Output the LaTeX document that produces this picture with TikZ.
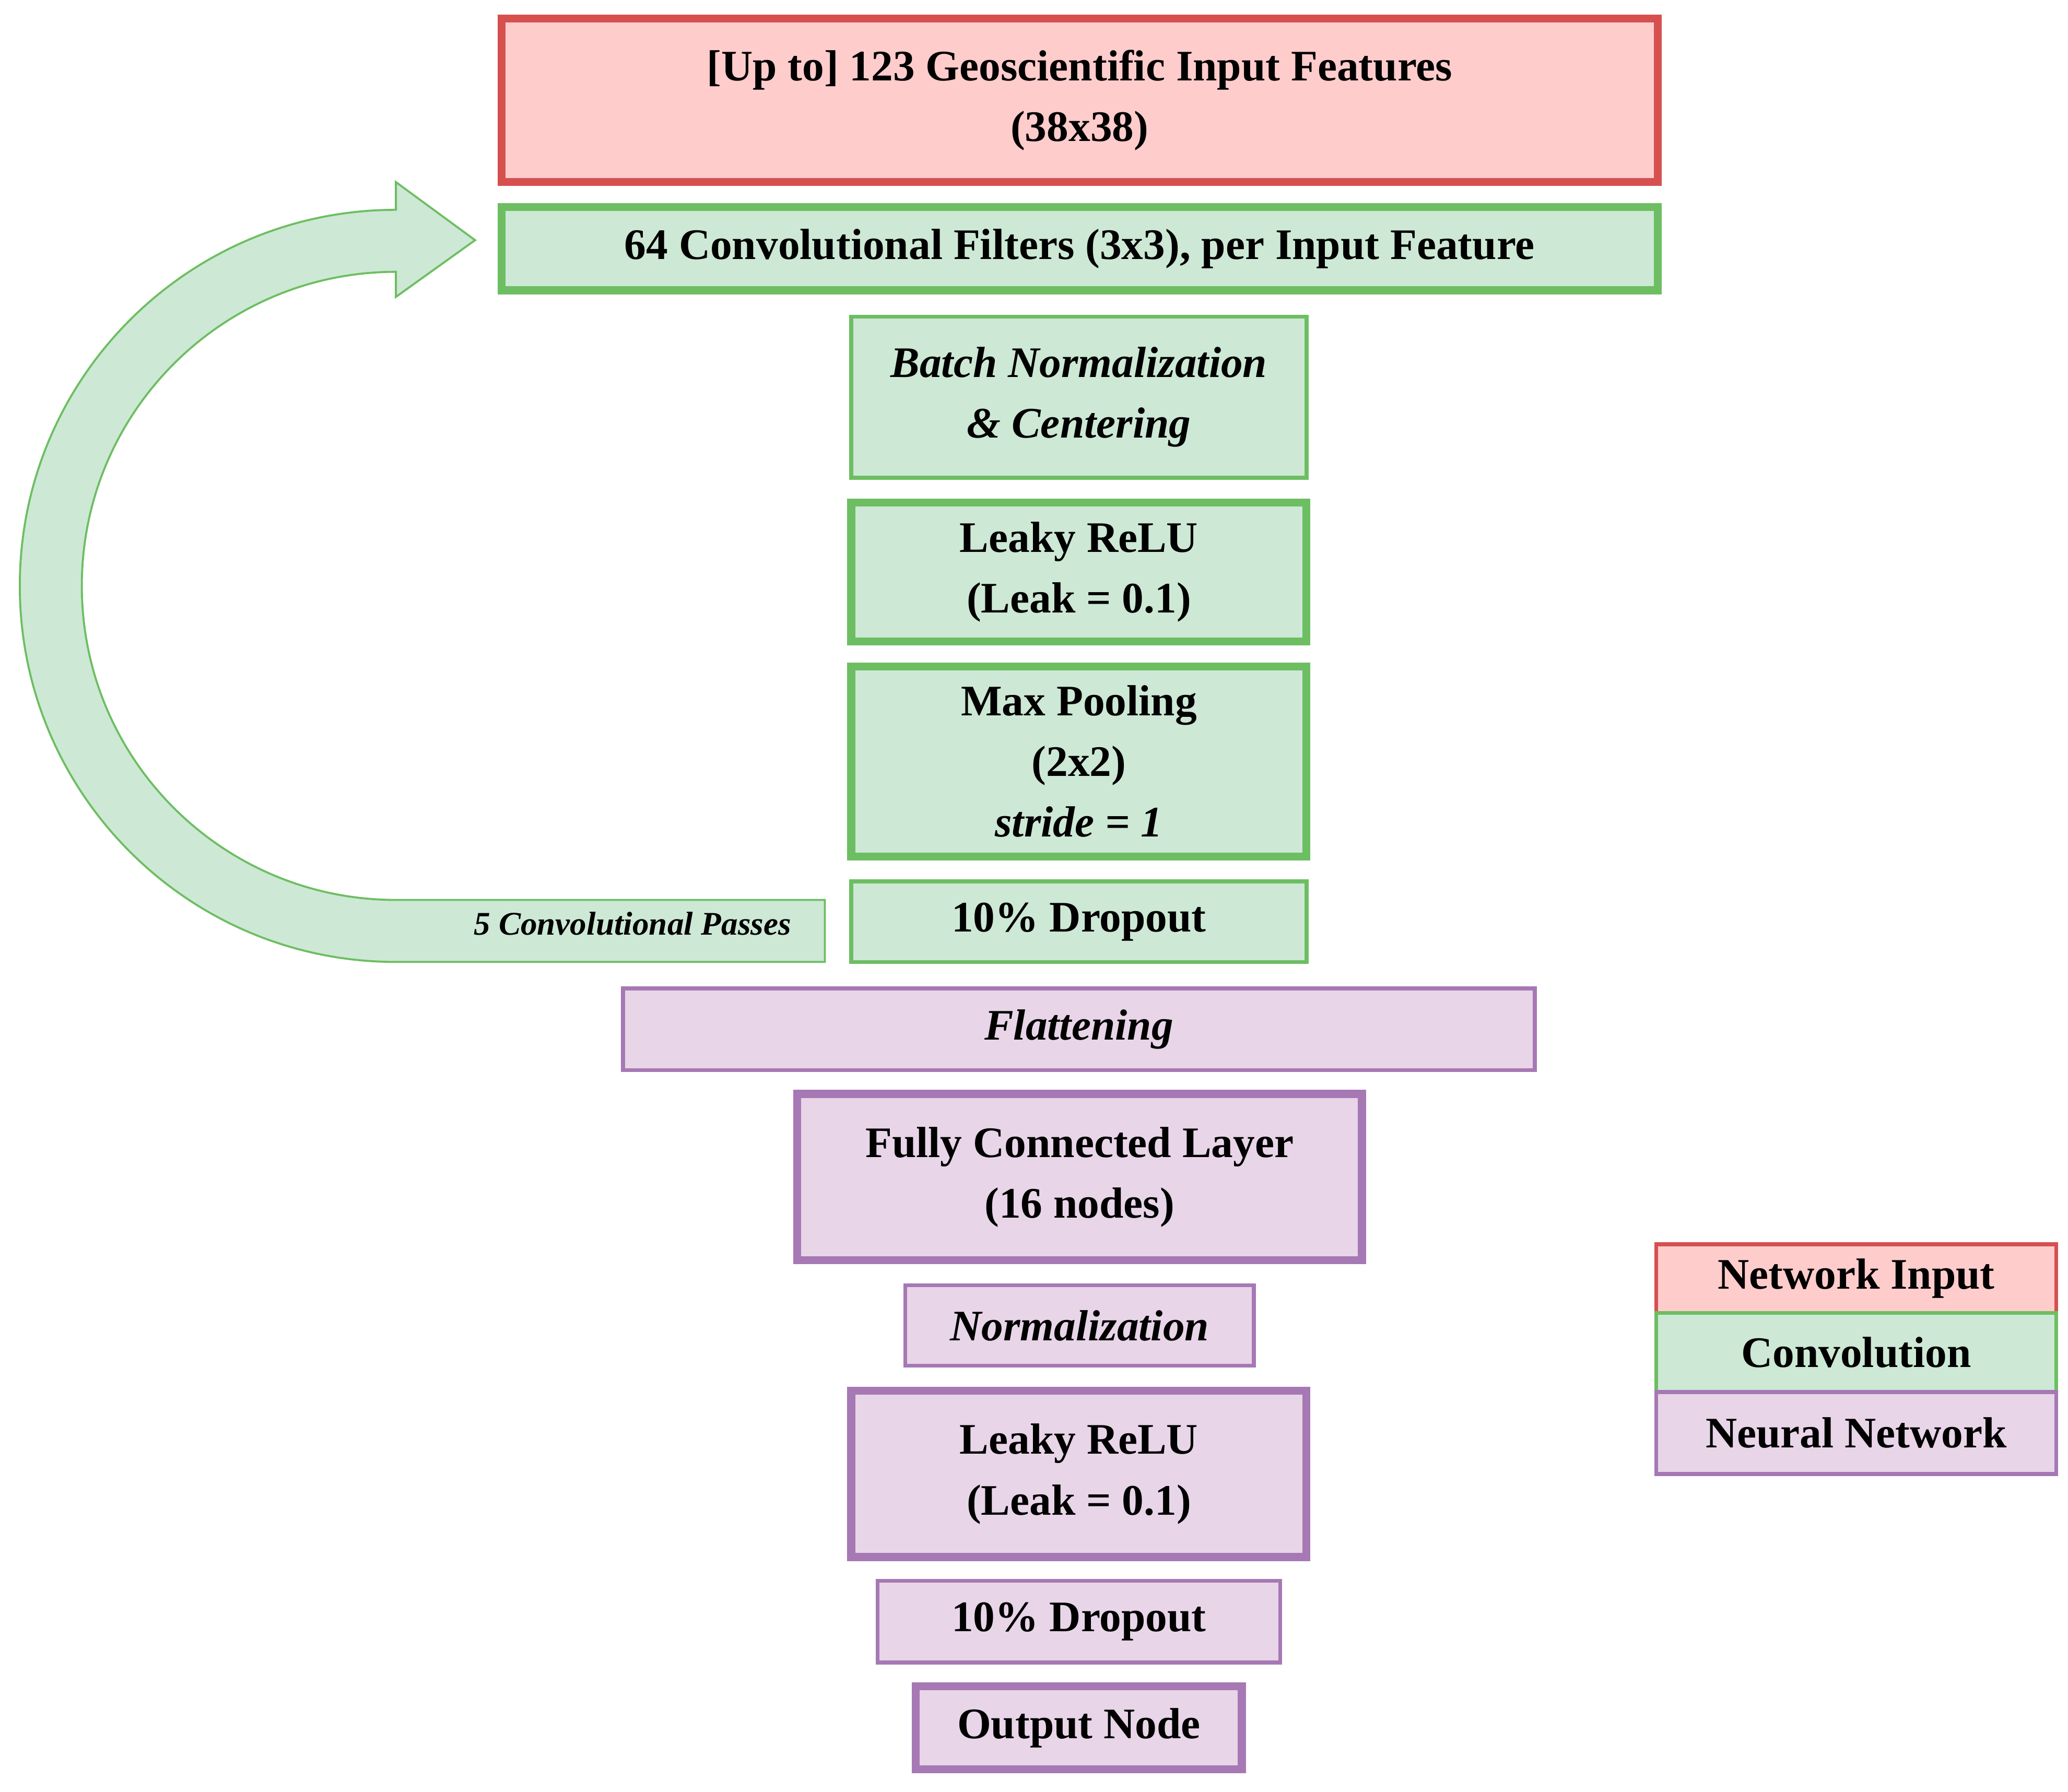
\documentclass[tikz,border=0pt]{standalone}
\usepackage{fontspec}
\setmainfont{Liberation Serif}
\definecolor{rfill}{HTML}{FFCCCC}\definecolor{rline}{HTML}{D65050}
\definecolor{gfill}{HTML}{CDE8D5}\definecolor{gline}{HTML}{6DBE62}
\definecolor{pfill}{HTML}{E8D5E8}\definecolor{pline}{HTML}{A678B4}
\begin{document}
\begin{tikzpicture}[x=1pt,y=1pt,
 box/.style={rectangle,inner sep=0,align=center,font=\fontsize{33}{46}\selectfont\bfseries},
 red/.style={box,fill=rfill,draw=rline},
 grn/.style={box,fill=gfill,draw=gline},
 pur/.style={box,fill=pfill,draw=pline},
 thk/.style={line width=6},thn/.style={line width=3}]
\useasboundingbox (0,0) rectangle (1567,-1358);
\newcommand{\bx}[7]{\node[#1,minimum width={#4-#3},minimum height={#6-#5}] (#2) at ({(#3+#4)/2},{-(#5+#6)/2}) {#7};}
% arrow
\draw[gline,fill=gfill,line width=1.5] (625,-729) -- (300,-729) arc[start angle=270,end angle=90,radius=285]
 -- (300,-138) -- (360,-182) -- (300,-225) -- (300,-206) arc[start angle=90,end angle=270,radius=238]
 -- (625,-682) -- cycle;
\node[anchor=east,font=\fontsize{25}{30}\selectfont\bfseries\itshape] (lbl) at (603,-700) {5 Convolutional Passes};
\bx{red,thk}{inp}{380}{1256}{14}{138}{[Up to] 123 Geoscientific Input Features\\(38x38)}
\bx{grn,thk}{conv}{380}{1256}{157}{220}{64 Convolutional Filters (3x3), per Input Feature}
\bx{grn,thn}{bn}{645}{990}{240}{362}{\itshape Batch Normalization\\\itshape \& Centering}
\bx{grn,thk}{lr1}{645}{990}{381}{486}{Leaky ReLU\\(Leak = 0.1)}
\bx{grn,thk}{mp}{645}{990}{505}{649}{Max Pooling\\(2x2)\\\itshape stride = 1}
\bx{grn,thn}{do1}{645}{990}{668}{729}{10\% Dropout}
\bx{pur,thn}{fl}{472}{1163}{749}{811}{\itshape Flattening}
\bx{pur,thk}{fc}{604}{1032}{829}{955}{Fully Connected Layer\\(16 nodes)}
\bx{pur,thn}{nm}{686}{950}{974}{1035}{\itshape Normalization}
\bx{pur,thk}{lr2}{645}{990}{1054}{1180}{Leaky ReLU\\(Leak = 0.1)}
\bx{pur,thn}{do2}{665}{970}{1198}{1260}{10\% Dropout}
\bx{pur,thk}{out}{694}{941}{1278}{1341}{Output Node}
\bx{red,thn}{l1}{1255}{1558}{943}{995}{Network Input}
\bx{grn,thn}{l2}{1255}{1558}{995}{1055}{Convolution}
\bx{pur,thn}{l3}{1255}{1558}{1055}{1117}{Neural Network}
\end{tikzpicture}
\end{document}
